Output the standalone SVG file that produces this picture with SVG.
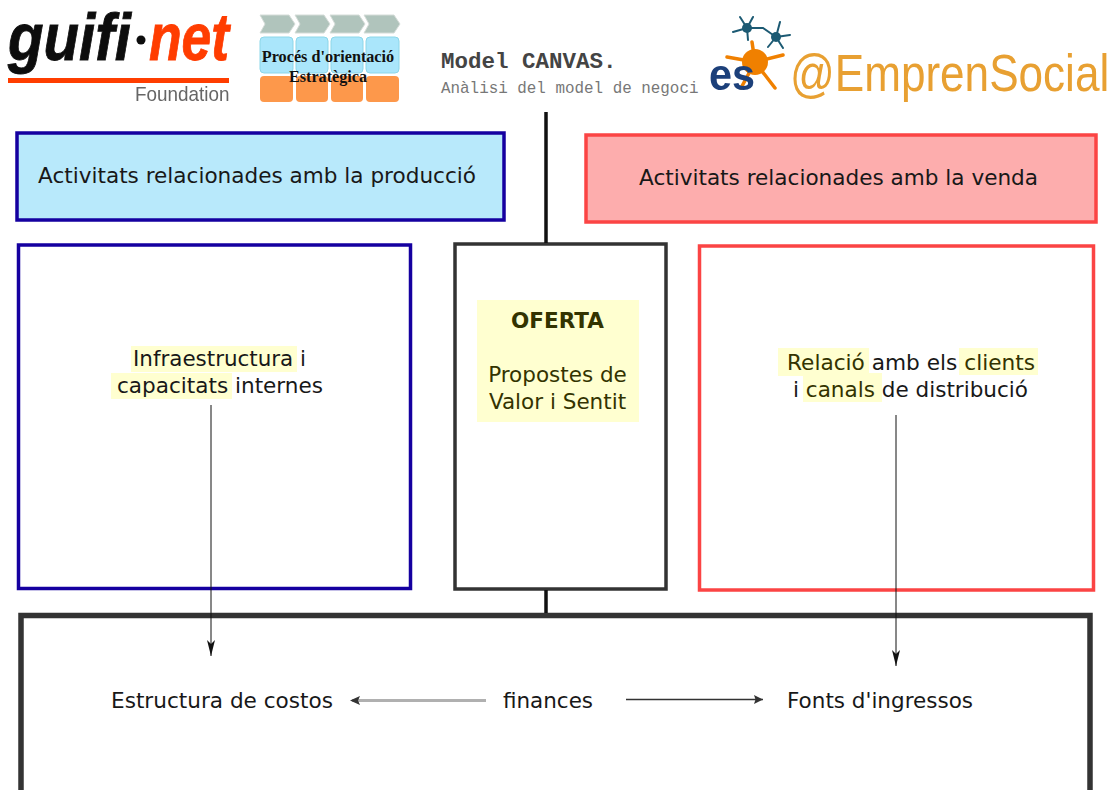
<svg xmlns="http://www.w3.org/2000/svg" width="1112" height="790" viewBox="0 0 1112 790">
<style>
.t{font-family:"DejaVu Sans",sans-serif;font-size:21px;fill:#181818}
.m{text-anchor:middle}
.o{fill:#333300}
.hl{fill:#ffffd0}
.box{stroke-width:3.5}
.blue{stroke:#1500a0}
.red{stroke:#fb4444}
.dark{stroke:#333;fill:#fff}
.ln{fill:none;stroke:#111;stroke-width:1}
.s1{font-family:"Liberation Mono",monospace}
.ps{font-family:"Liberation Serif",serif;font-weight:bold;font-size:16.2px;fill:#111;text-anchor:middle}
.chev{fill:#b0c4bc;stroke:#d5dcd8}
.c1{fill:#aae6fb;stroke:#8cd6e8;stroke-width:1}
.c2{fill:#fd984c}
.net{stroke:#1c5a73;stroke-width:2;fill:none;stroke-linecap:round}
.neu{stroke:#f08000;stroke-width:3.5;fill:none;stroke-linecap:round}
.lg{font-family:"Liberation Sans",sans-serif}
</style>
<defs>
<marker id="a" markerWidth="16" markerHeight="8" refX="16" refY="4" orient="auto" markerUnits="userSpaceOnUse"><path d="M0 0L16 4L0 8L4 4Z" fill="#111"/></marker>
<marker id="b" markerWidth="9" markerHeight="10" refX="9" refY="5" orient="auto" markerUnits="userSpaceOnUse"><path d="M0 0.5L9 5L0 9.5L1.5 5Z" fill="#333"/></marker>
<filter id="soft" x="-5%" y="-5%" width="110%" height="110%"><feGaussianBlur stdDeviation="0.5"/></filter>
</defs>
<rect width="1112" height="790" fill="#fff"/>

<g id="logo-guifi" filter="url(#soft)">
<text class="lg" transform="translate(8 60) scale(.97 1.1)" font-weight="bold" font-style="italic" font-size="60" fill="#111" stroke="#111" stroke-width=".8">guifi</text>
<circle cx="141" cy="40" r="4.5" fill="#111"/>
<text class="lg" transform="translate(149 60) scale(.89 1.1)" font-weight="bold" font-style="italic" font-size="60" fill="#ff3c00" stroke="#ff3c00" stroke-width=".8">net</text>
<rect x="8" y="78" width="221" height="5" fill="#ff3c00"/>
<text class="lg" transform="translate(135 101) scale(.9 1)" font-size="21" fill="#666">Foundation</text>
</g>

<g id="logo-proces" filter="url(#soft)">
<path class="chev" d="M260 15h29l6 9l-6 9h-29l5-9z"/>
<path class="chev" d="M295 15h29l6 9l-6 9h-29l5-9z"/>
<path class="chev" d="M330 15h29l6 9l-6 9h-29l5-9z"/>
<path class="chev" d="M364 15h30l6 9l-6 9h-30l5-9z"/>
<rect class="c1" x="260" y="37" width="33" height="36" rx="4"/>
<rect class="c1" x="296" y="37" width="32" height="36" rx="4"/>
<rect class="c1" x="331" y="37" width="32" height="36" rx="4"/>
<rect class="c1" x="366" y="37" width="33" height="36" rx="4"/>
<rect class="c2" x="260" y="76" width="33" height="26" rx="4"/>
<rect class="c2" x="296" y="76" width="32" height="26" rx="4"/>
<rect class="c2" x="331" y="76" width="32" height="26" rx="4"/>
<rect class="c2" x="366" y="76" width="33" height="26" rx="4"/>
</g>
<g id="proces-label">
<text class="ps" x="328" y="62">Procés d'orientació</text>
<text class="ps" x="328" y="82">Estratègica</text>
</g>

<g id="title">
<text class="s1" x="441" y="68" font-size="22.500" font-weight="bold" fill="#444">Model CANVAS.</text>
<text class="s1" x="441" y="93" font-size="15.900" fill="#777">Anàlisi del model de negoci</text>
</g>

<g id="logo-emprensocial" filter="url(#soft)">
<path class="net" d="M740 17L747 28M753 17L747 28M733 32L747 28M748 40L747 28M747 28L763 28L776 37M780 22L776 37M790 35L776 37M768 47L776 37M783 48L776 37"/>
<circle cx="747" cy="28" r="5" fill="#1c5a73"/><circle cx="776" cy="37" r="5" fill="#1c5a73"/>
<path class="neu" d="M752 42L755 62M727 57L755 62M783 55L755 62M775 88L755 62M741 88L755 62"/>
<circle cx="755" cy="62" r="13" fill="#f08000"/>
<text class="lg" x="709" y="90" font-weight="bold" font-size="44" fill="#1c3f7a" textLength="46" lengthAdjust="spacingAndGlyphs">es</text>
<text class="lg" transform="translate(790 91) scale(.848 1)" font-size="52" fill="#e8a030">@EmprenSocial</text>
</g>

<g id="activitats-produccio">
<rect class="box blue" x="17" y="133" width="487" height="87" fill="#b8e9fb"/>
<text class="t" x="38" y="183" textLength="438" lengthAdjust="spacingAndGlyphs">Activitats relacionades amb la producció</text>
</g>
<g id="activitats-venda">
<rect class="box red" x="586" y="135" width="510" height="87" fill="#fdadad"/>
<text class="t" x="639" y="185" textLength="399" lengthAdjust="spacingAndGlyphs">Activitats relacionades amb la venda</text>
</g>

<g id="infraestructura">
<rect class="box blue" x="18.500" y="245" width="392" height="343.500" fill="#fff"/>
<rect class="hl" x="131" y="346" width="166" height="26"/>
<rect class="hl" x="111" y="373" width="121" height="26"/>
<text class="t" x="133" y="366" textLength="173" lengthAdjust="spacingAndGlyphs">Infraestructura i</text>
<text class="t" x="117" y="393" textLength="206" lengthAdjust="spacingAndGlyphs">capacitats internes</text>
</g>

<g id="oferta">
<rect class="box dark" x="455" y="244" width="211" height="345"/>
<rect class="hl" x="477" y="300" width="162" height="122"/>
<text class="t m o" x="557.500" y="328" font-weight="bold" style="font-size:21.500px">OFERTA</text>
<text class="t m o" x="557.500" y="382" style="font-size:21.500px">Propostes de</text>
<text class="t m o" x="557.500" y="409" style="font-size:21.500px">Valor i Sentit</text>
</g>

<g id="relacio">
<rect class="box red" x="699.500" y="246" width="394" height="344" fill="#fff"/>
<rect class="hl" x="778" y="348" width="91" height="28"/>
<rect class="hl" x="959" y="348" width="79" height="27"/>
<rect class="hl" x="803" y="373" width="79" height="29"/>
<text class="t" x="787" y="370" textLength="248" lengthAdjust="spacingAndGlyphs"><tspan class="o">Relació</tspan> amb els <tspan class="o">clients</tspan></text>
<text class="t" x="793" y="397" textLength="235" lengthAdjust="spacingAndGlyphs">i <tspan class="o">canals</tspan> de distribució</text>
</g>

<g id="finances">
<path d="M21 790V615.500H1090V790" fill="#fff" stroke="#333" stroke-width="5.500"/>
<text class="t" x="111" y="707.500" textLength="222" lengthAdjust="spacingAndGlyphs">Estructura de costos</text>
<text class="t" x="503" y="707.500" textLength="90" lengthAdjust="spacingAndGlyphs">finances</text>
<text class="t" x="787" y="707.500" textLength="186" lengthAdjust="spacingAndGlyphs">Fonts d'ingressos</text>
</g>

<g id="connectors">
<path d="M546 112V243" stroke="#111" stroke-width="3.500" fill="none"/>
<path d="M546 590V613" stroke="#111" stroke-width="3.500" fill="none"/>
<path class="ln" d="M211 405V656" marker-end="url(#a)"/>
<path class="ln" d="M896 415V666" marker-end="url(#a)"/>
<path d="M486 700.500H352" stroke="#b0b0b0" stroke-width="3" fill="none"/>
<path d="M360 696L350 700.500L360 705L358 700.500Z" fill="#333"/>
<path d="M626 699.500H763" stroke="#333" stroke-width="1.300" fill="none" marker-end="url(#b)"/>
</g>
</svg>
